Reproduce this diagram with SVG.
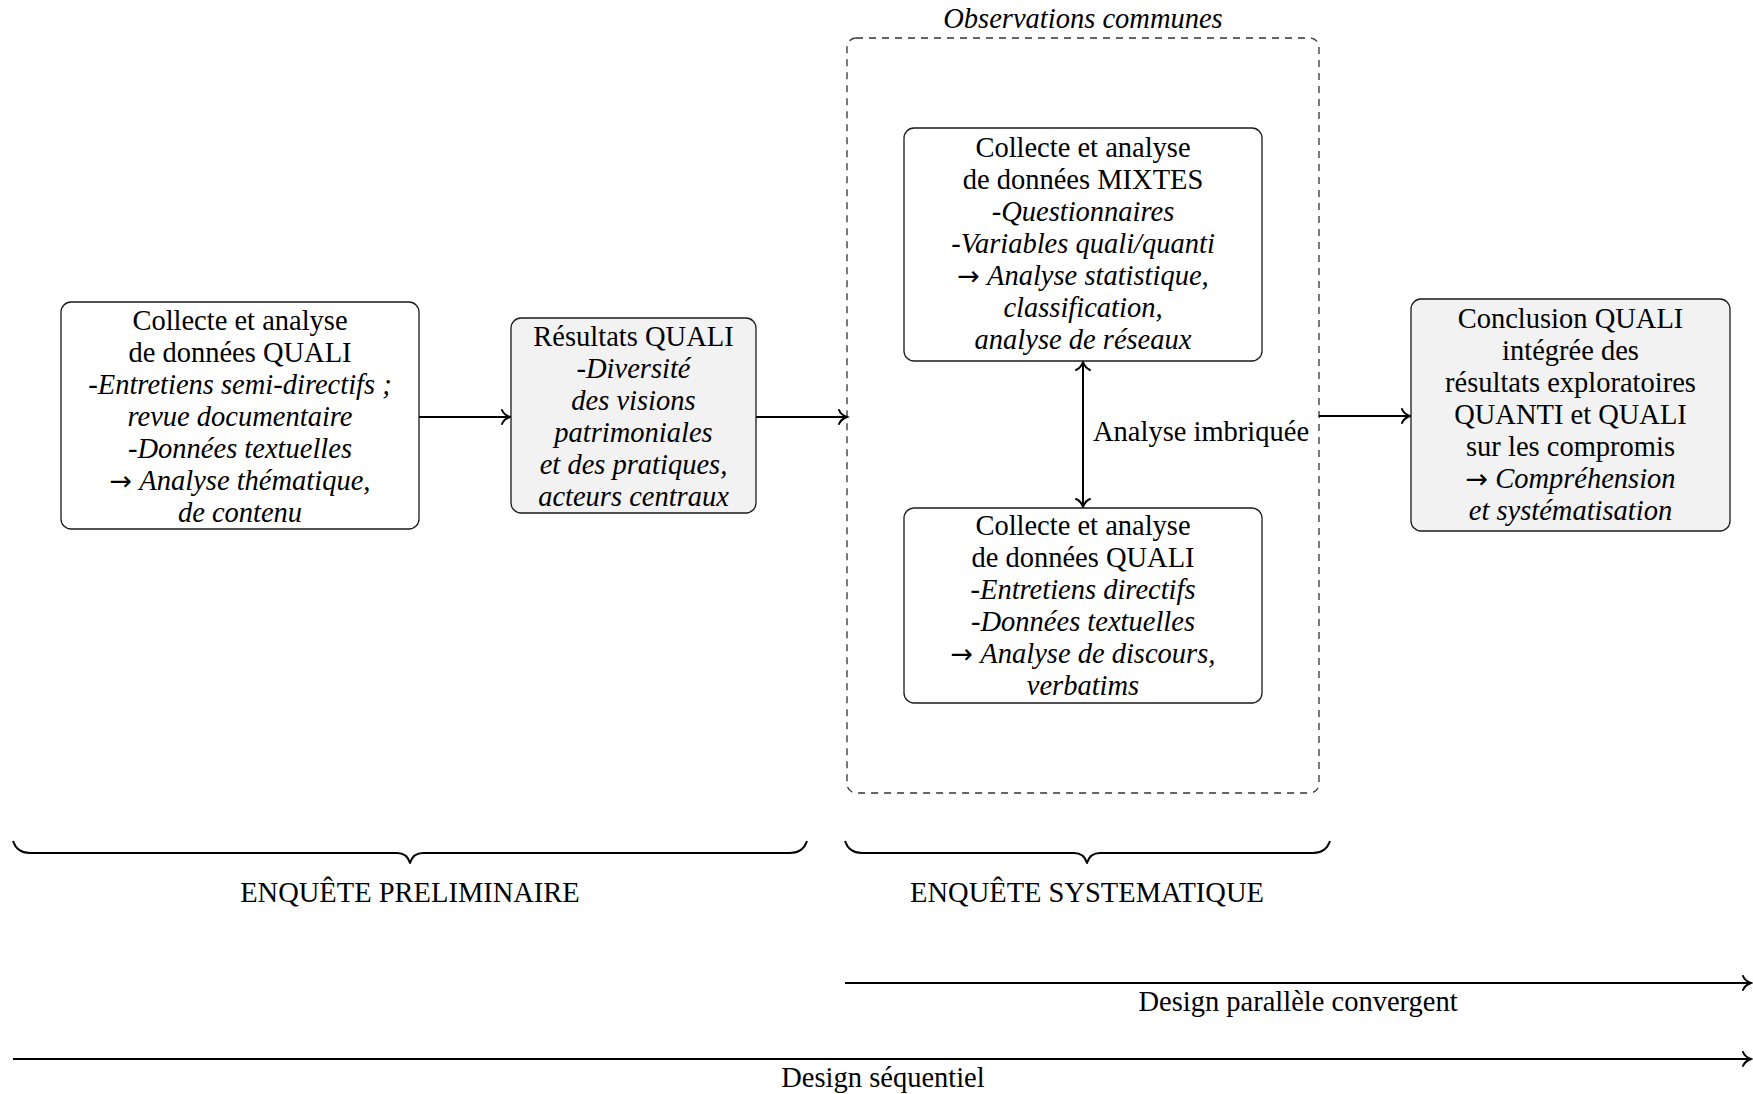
<svg xmlns="http://www.w3.org/2000/svg" width="1753" height="1094" viewBox="0 0 1753 1094">
<style>
text{font-family:"Liberation Serif","Times New Roman",serif;font-size:28.5px;fill:#000}
.c{text-anchor:middle}
.i{font-style:italic}
.ar{font-family:"DejaVu Sans",sans-serif;font-size:27px;font-style:normal}
.box{stroke:#1a1a1a;stroke-width:1.3;fill:#fff}
.grey{fill:#f2f2f2}
.ln{stroke:#000;stroke-width:2;fill:none}
.brace{stroke:#000;stroke-width:2;fill:none;stroke-linejoin:round}
</style>
<defs>
<marker id="ah" markerUnits="userSpaceOnUse" markerWidth="24" markerHeight="24" viewBox="-12 -12 24 24" refX="0" refY="0" orient="auto-start-reverse">
<path d="M -8 -7 C -6.5 -3, -2.5 -0.9, 0 0 C -2.5 0.9, -6.5 3, -8 7" stroke="#000" stroke-width="2" fill="none" stroke-linecap="round"/>
</marker>
</defs>
<rect width="1753" height="1094" fill="#fff"/>

<g id="observations-communes">
<rect x="847" y="38" width="472" height="755" rx="9" fill="none" stroke="#333" stroke-width="1.3" stroke-dasharray="7 6"/>
<text class="c i" x="1083" y="28">Observations communes</text>
</g>

<g id="connectors">
<line class="ln" x1="419" y1="417" x2="510" y2="417" marker-end="url(#ah)"/>
<line class="ln" x1="756" y1="417" x2="847" y2="417" marker-end="url(#ah)"/>
<line class="ln" x1="1319" y1="416" x2="1410" y2="416" marker-end="url(#ah)"/>
<line class="ln" x1="1083" y1="362" x2="1083" y2="507" marker-start="url(#ah)" marker-end="url(#ah)"/>
<text x="1093" y="441">Analyse imbriquée</text>
<line class="ln" x1="845" y1="983" x2="1751" y2="983" marker-end="url(#ah)"/>
<text class="c" x="1298" y="1011">Design parallèle convergent</text>
<line class="ln" x1="13" y1="1059" x2="1751" y2="1059" marker-end="url(#ah)"/>
<text class="c" x="883" y="1087">Design séquentiel</text>
</g>

<g id="brace-preliminaire">
<path class="brace" d="M 13 841 Q 17 853 30 853 L 397 853 Q 407 853 410 863 Q 413 853 423 853 L 790 853 Q 803 853 807 841"/>
<text class="c" x="410" y="902">ENQUÊTE PRELIMINAIRE</text>
</g>

<g id="brace-systematique">
<path class="brace" d="M 845 841 Q 849 853 862 853 L 1074 853 Q 1084 853 1087 863 Q 1090 853 1100 853 L 1313 853 Q 1326 853 1330 841"/>
<text class="c" x="1087" y="902">ENQUÊTE SYSTEMATIQUE</text>
</g>

<g id="quali-preliminaire">
<rect class="box" x="61" y="302" width="358" height="227" rx="10"/>
<text class="c" x="240" y="330">Collecte et analyse</text>
<text class="c" x="240" y="362">de données QUALI</text>
<text class="c" x="240" y="394">-<tspan class="i">Entretiens semi-directifs ;</tspan></text>
<text class="c i" x="240" y="426">revue documentaire</text>
<text class="c" x="240" y="458">-<tspan class="i">Données textuelles</tspan></text>
<text class="c" x="240" y="490"><tspan class="ar">→</tspan> <tspan class="i">Analyse thématique,</tspan></text>
<text class="c i" x="240" y="522">de contenu</text>
</g>

<g id="resultats-quali">
<rect class="box grey" x="511" y="318" width="245" height="195" rx="10"/>
<text class="c" x="633.5" y="346">Résultats QUALI</text>
<text class="c" x="633.5" y="378">-<tspan class="i">Diversité</tspan></text>
<text class="c i" x="633.5" y="410">des visions</text>
<text class="c i" x="633.5" y="442">patrimoniales</text>
<text class="c i" x="633.5" y="474">et des pratiques,</text>
<text class="c i" x="633.5" y="506">acteurs centraux</text>
</g>

<g id="mixtes">
<rect class="box" x="904" y="128" width="358" height="233" rx="10"/>
<text class="c" x="1083" y="157">Collecte et analyse</text>
<text class="c" x="1083" y="189">de données MIXTES</text>
<text class="c" x="1083" y="221">-<tspan class="i">Questionnaires</tspan></text>
<text class="c" x="1083" y="253">-<tspan class="i">Variables quali/quanti</tspan></text>
<text class="c" x="1083" y="285"><tspan class="ar">→</tspan> <tspan class="i">Analyse statistique,</tspan></text>
<text class="c i" x="1083" y="317">classification,</text>
<text class="c i" x="1083" y="349">analyse de réseaux</text>
</g>

<g id="quali-systematique">
<rect class="box" x="904" y="508" width="358" height="195" rx="10"/>
<text class="c" x="1083" y="535">Collecte et analyse</text>
<text class="c" x="1083" y="567">de données QUALI</text>
<text class="c" x="1083" y="599">-<tspan class="i">Entretiens directifs</tspan></text>
<text class="c" x="1083" y="631">-<tspan class="i">Données textuelles</tspan></text>
<text class="c" x="1083" y="663"><tspan class="ar">→</tspan> <tspan class="i">Analyse de discours,</tspan></text>
<text class="c i" x="1083" y="695">verbatims</text>
</g>

<g id="conclusion">
<rect class="box grey" x="1411" y="299" width="319" height="232" rx="10"/>
<text class="c" x="1570.5" y="327.5">Conclusion QUALI</text>
<text class="c" x="1570.5" y="359.5">intégrée des</text>
<text class="c" x="1570.5" y="391.5">résultats exploratoires</text>
<text class="c" x="1570.5" y="423.5">QUANTI et QUALI</text>
<text class="c" x="1570.5" y="455.5">sur les compromis</text>
<text class="c" x="1570.5" y="487.5"><tspan class="ar">→</tspan> <tspan class="i">Compréhension</tspan></text>
<text class="c i" x="1570.5" y="519.5">et systématisation</text>
</g>
</svg>
